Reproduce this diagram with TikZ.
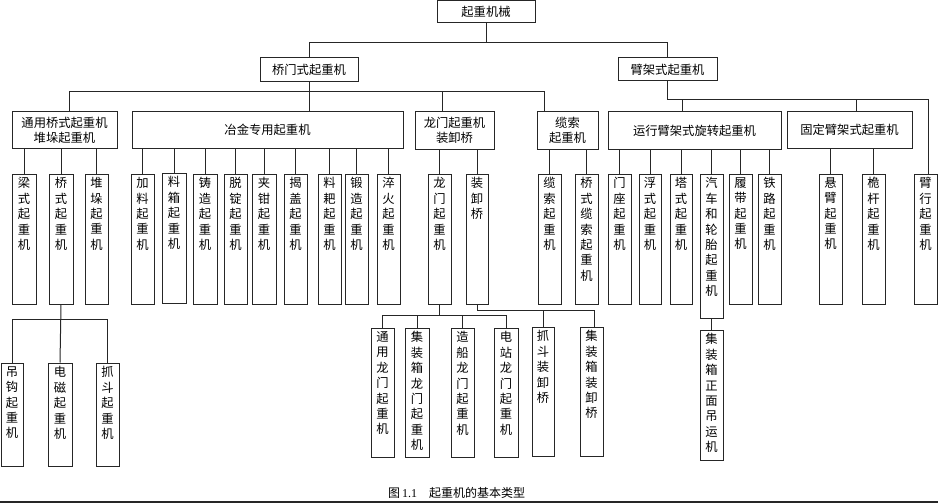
\documentclass[tikz,border=0pt]{standalone}
\usepackage{fontspec}
\setmainfont{Liberation Serif}
\newfontfamily\cjk{Noto Sans CJK SC}
\def\vt#1{\vtaux#1\relax}
\def\vtaux#1#2\relax{#1\ifx\relax#2\relax\else\\\vtaux#2\relax\fi}
\tikzset{
  box/.style={draw=black!85, line width=1pt, inner sep=0pt, fill=white},
  hb/.style={box, align=center, font=\cjk\fontsize{12.3}{15}\selectfont},
  vb/.style={box, font=\cjk\fontsize{12.3}{15.4}\selectfont},
  conn/.style={draw=black!85, line width=1pt},
}
\newcommand\HB[6]{\node[hb, minimum width={(#4-#2)*1pt}, minimum height={(#5-#3)*1pt}] (#1) at ({(#2+#4)/2},{(#3+#5)/2}) {#6};}
\newcommand\VB[6]{\node[vb] (#1) at ({(#2+#4)/2},{(#3+#5)/2}) {\parbox[c][\dimexpr#5pt-#3pt\relax][t]{\dimexpr#4pt-#2pt\relax}{\centering\vspace*{3.5pt}\vt{#6}\par}};}
\begin{document}
\begin{tikzpicture}[x=1pt,y=-1pt]
\useasboundingbox (0,0) rectangle (938,503);
% level 0-2
\HB{root}{437}{1}{535}{23}{起重机械}
\HB{qm}{260}{58}{358}{82}{桥门式起重机}
\HB{bj}{618}{58}{717}{81}{臂架式起重机}
\HB{ty}{12}{112}{117}{148}{通用桥式起重机\\堆垛起重机}
\HB{yj}{132}{112}{403}{148}{冶金专用起重机}
\HB{lm}{415}{112}{494}{149}{龙门起重机\\装卸桥}
\HB{ls}{537}{112}{598}{149}{缆索\\起重机}
\HB{yx}{608}{112}{781}{149}{运行臂架式旋转起重机}
\HB{gd}{787}{112}{912}{148}{固定臂架式起重机}
% level 3
\VB{a1}{12}{174}{36}{304}{梁式起重机}
\VB{a2}{49}{174}{73}{304}{桥式起重机}
\VB{a3}{85}{174}{108}{304}{堆垛起重机}
\VB{b1}{131}{174}{154}{304}{加料起重机}
\VB{b2}{162}{173}{186}{303}{料箱起重机}
\VB{b3}{193}{174}{217}{304}{铸造起重机}
\VB{b4}{224}{174}{247}{304}{脱锭起重机}
\VB{b5}{252}{174}{276}{304}{夹钳起重机}
\VB{b6}{284}{174}{307}{304}{揭盖起重机}
\VB{b7}{318}{174}{341}{304}{料耙起重机}
\VB{b8}{345}{174}{368}{304}{锻造起重机}
\VB{b9}{377}{174}{400}{304}{淬火起重机}
\VB{c1}{428}{174}{451}{304}{龙门起重机}
\VB{c2}{466}{174}{488}{304}{装卸桥}
\VB{d1}{538}{174}{561}{304}{缆索起重机}
\VB{d2}{575}{174}{598}{304}{桥式缆索起重机}
\VB{e1}{608}{174}{631}{304}{门座起重机}
\VB{e2}{639}{174}{661}{304}{浮式起重机}
\VB{e3}{670}{174}{692}{304}{塔式起重机}
\VB{e4}{700}{174}{723}{318}{汽车和轮胎起重机}
\VB{e5}{729}{174}{752}{304}{履带起重机}
\VB{e6}{758}{174}{781}{304}{铁路起重机}
\VB{f1}{819}{174}{842}{304}{悬臂起重机}
\VB{f2}{862}{174}{885}{304}{桅杆起重机}
\VB{g1}{914}{174}{937}{304}{臂行起重机}
% level 4
\VB{h1}{1}{363}{23}{466}{吊钩起重机}
\VB{h2}{48}{363}{72}{466}{电磁起重机}
\VB{h3}{96}{363}{119}{466}{抓斗起重机}
\VB{i1}{371}{328}{394}{457}{通用龙门起重机}
\VB{i2}{405}{328}{429}{457}{集装箱龙门起重机}
\VB{i3}{451}{328}{474}{457}{造船龙门起重机}
\VB{i4}{494}{328}{518}{457}{电站龙门起重机}
\VB{j1}{532}{327}{554}{456}{抓斗装卸桥}
\VB{j2}{580}{327}{603}{456}{集装箱装卸桥}
\VB{k1}{700}{330}{723}{460}{集装箱正面吊运机}
% caption
\node[anchor=west, inner sep=0pt, font=\fontsize{12}{14}\selectfont] (cap) at (388,493) {{\cjk 图}\,1.1\quad{\cjk 起重机的基本类型}};
\draw[black!85, line width=1.2pt] (0,502) -- (938,502);
% named connection points
\coordinate (tyin) at ([xshift=4.5pt]ty.north);
\coordinate (lmin) at ([xshift=-12.5pt]lm.north);
\coordinate (lsin) at ([xshift=-23.5pt]ls.north);
\coordinate (yxin) at ([xshift=-12.5pt]yx.north);
\coordinate (gdin) at ([xshift=6.5pt]gd.north);
\coordinate (g1in) at ([xshift=2.5pt]g1.north);
\coordinate (j2in) at ([xshift=3pt]j2.north);
% connectors
\draw[conn] (root.south) -- (root.south |- 0,43);
\draw[conn] (qm.north) |- (bj.north |- 0,43) -- (bj.north);
\draw[conn] (qm.south) -- (qm.south |- yj.north);
\draw[conn] (tyin) |- (lsin |- 0,92) -- (lsin);
\draw[conn] (lmin) -- (lmin |- 0,92);
\draw[conn] (bj.south) |- (g1in |- 0,100) -- (g1in);
\draw[conn] (yxin) -- (yxin |- 0,100);
\draw[conn] (gdin) -- (gdin |- 0,100);
\foreach \c/\p in {a1/ty,a2/ty,a3/ty,b1/yj,b2/yj,b3/yj,b4/yj,b5/yj,b6/yj,b7/yj,b8/yj,b9/yj,c1/lm,c2/lm,d1/ls,d2/ls,e1/yx,e2/yx,e3/yx,e4/yx,e5/yx,e6/yx,f1/gd,f2/gd}
  \draw[conn] (\c.north) -- (\c.north |- \p.south);
\draw[conn] (a2.south) -- (h2.north);
\draw[conn] (h1.north) |- (h3.north |- 0,319) -- (h3.north);
\draw[conn] (c1.south) -- (c1.south |- 0,315);
\draw[conn] (i1.north) |- (i4.north |- 0,315) -- (i4.north);
\draw[conn] (i2.north) -- (i2.north |- 0,315);
\draw[conn] (i3.north) -- (i3.north |- 0,315);
\draw[conn] (c2.south) |- (j2in |- 0,310) -- (j2in);
\draw[conn] (j1.north) -- (j1.north |- 0,310);
\draw[conn] (e4.south) -- (k1.north);
\end{tikzpicture}
\end{document}
